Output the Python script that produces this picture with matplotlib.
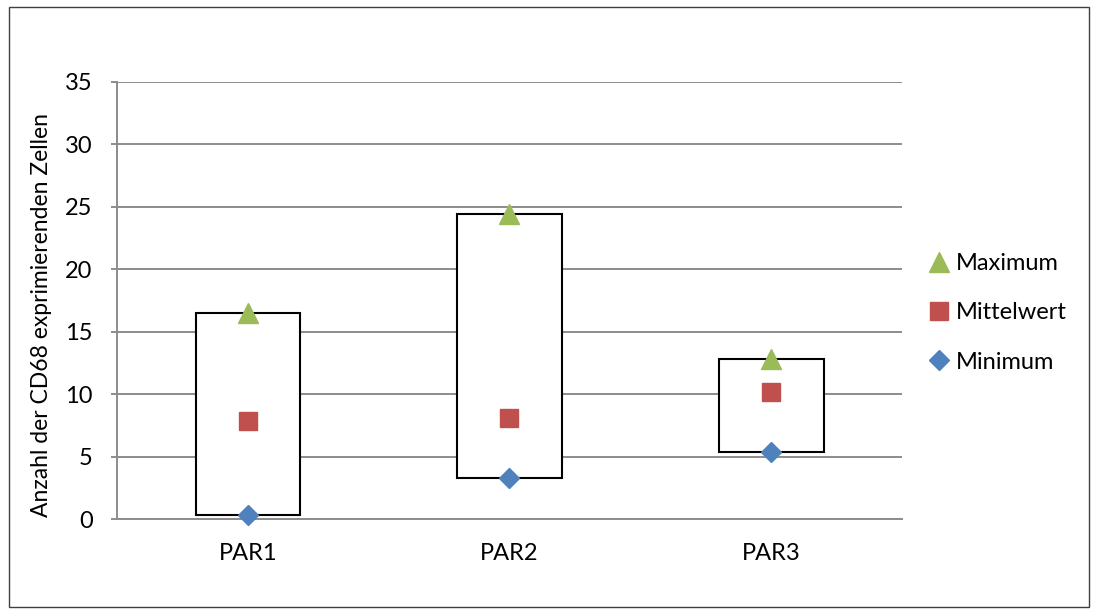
import numpy as np
import matplotlib.pyplot as plt
from matplotlib.patches import Rectangle

# CD68 counts per group: maximum, mean and minimum
groups = ["PAR1", "PAR2", "PAR3"]
maximum = [16.5, 24.4, 12.8]
mittelwert = [7.85, 8.1, 10.2]
minimum = [0.3, 3.3, 5.4]

plt.rcParams['font.family'] = ['Lato', 'DejaVu Sans']

fig = plt.figure(figsize=(10.96, 6.10), dpi=100)
ax = fig.add_axes([117/1096, 1 - 519/610, 785/1096, 437/610])

x = np.arange(len(groups))

# high-low boxes drawn behind the markers
box_w = 0.4
for xi, lo, hi in zip(x, minimum, maximum):
    ax.add_patch(Rectangle((xi - box_w/2, lo), box_w, hi - lo,
                           facecolor='white', edgecolor='black', lw=1.5, zorder=2))

ax.plot(x, maximum, linestyle='none', marker='^', ms=15, color='#9BBB59',
        mec='#9BBB59', label='Maximum', zorder=3, clip_on=False)
ax.plot(x, mittelwert, linestyle='none', marker='s', ms=13, color='#C0504D',
        mec='#C0504D', label='Mittelwert', zorder=3, clip_on=False)
ax.plot(x, minimum, linestyle='none', marker='D', ms=10.5, color='#4F81BD',
        mec='#4F81BD', label='Minimum', zorder=3, clip_on=False)

ax.set_xlim(-0.5, 2.5)
ax.set_ylim(0, 35)
ax.set_yticks(range(0, 36, 5))
ax.set_xticks(x)
ax.set_xticklabels(groups)
ax.grid(axis='y', color='#8C8C8C', lw=1.4, zorder=0)
ax.set_axisbelow(True)

for s in ['top', 'right']:
    ax.spines[s].set_visible(False)
for s in ['left', 'bottom']:
    ax.spines[s].set_color('#8C8C8C')
    ax.spines[s].set_linewidth(1.4)

ax.tick_params(axis='y', length=4, width=1.4, color='#8C8C8C', pad=13.5, labelsize=17)
ax.tick_params(axis='x', length=0, pad=17, labelsize=17)

fig.text(42/1096, 1 - 315/610, 'Anzahl der CD68 exprimierenden Zellen', fontsize=16.5,
         rotation=90, ha='center', va='center')

leg = ax.legend(loc='upper left', bbox_to_anchor=(930/1096, 1 - 253/610),
                bbox_transform=fig.transFigure, frameon=False,
                fontsize=17, handlelength=0.8, handletextpad=0.3, labelspacing=1.2,
                borderaxespad=0, borderpad=0)

# thin frame around the whole figure
fig.patches.append(Rectangle((9/1096, 3/610), 1080/1096, 600/610, transform=fig.transFigure,
                             fill=False, edgecolor='#404040', lw=1.0))

fig.savefig('out.png', dpi=100)
